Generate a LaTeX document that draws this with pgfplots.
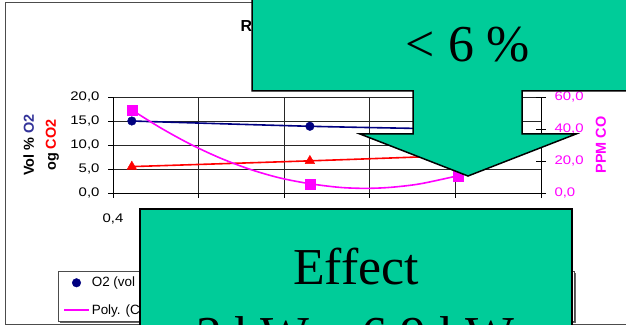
\documentclass[border=0pt]{standalone}
\usepackage{pgfplots}
\pgfplotsset{compat=1.18}
\usepackage{fontspec}
\setmainfont{Liberation Sans}
\newfontfamily\tickfont{Liberation Sans}[FakeStretch=1.2]
\newfontfamily\bigserif{Liberation Serif}

\definecolor{o2navy}{RGB}{0,0,128}
\definecolor{o2lab}{RGB}{51,51,153}
\definecolor{coMag}{RGB}{255,0,255}
\definecolor{callout}{RGB}{0,204,153}

\pgfplotsset{
  excelax/.style={
    scale only axis, width=428bp, height=96bp,
    at={(113bp,132bp)}, anchor=south west,
    xmin=0.4, xmax=1.4,
    tick label style={font=\tickfont\fontsize{12.5}{14}\selectfont},
    /pgf/number format/assume math mode=true,
    /pgf/number format/use comma,
    /pgf/number format/fixed,
    /pgf/number format/fixed zerofill,
    /pgf/number format/precision=1,
    axis line style={black, line width=0.8bp},
    tick style={black, line width=0.8bp},
  }
}

\begin{document}
\begin{tikzpicture}
\path[use as bounding box] (0,0) rectangle (626bp,325bp);

% chart frame, title, legend box
\draw[black!70, line width=1bp] (5.5bp,1bp) rectangle (700bp,322.5bp);
\node[anchor=base west, inner sep=0pt, font=\bfseries\fontsize{16}{18}\selectfont] at (240.5bp,293bp) {Røggasanalyse};
\fill[black!60] (60bp,2bp) rectangle (576bp,52bp);
\filldraw[fill=white, draw=black!70, line width=0.8bp] (58bp,4bp) rectangle (574bp,54bp);

% left axis: O2 and CO2 (vol %)
\begin{axis}[excelax,
  ymin=0, ymax=20, ytick={0,5,...,20},
  xtick={0.4,0.6,...,1.4},
  axis x line*=bottom, axis y line*=left,
  tick align=outside, major tick length=5bp,
  xticklabel style={yshift=-12bp},
  yticklabel style={xshift=-5bp},
  grid=major, grid style={black!85, line width=0.8bp},
  every axis y label/.style={at={(rel axis cs:-0.168,0.5)}, anchor=center, rotate=90,
    align=center, font=\bfseries\fontsize{14.5}{22}\selectfont},
  ylabel={Vol \% {\color{o2lab}O2}\\og {\color{red}CO2}},
  legend columns=3,
  legend cell align=left,
  legend style={draw=none, fill=none, at={(rel axis cs:-0.1168,-0.854)}, anchor=north west,
    inner sep=0pt, font=\fontsize{13.5}{15}\selectfont, row sep=12bp,
    /tikz/every even column/.append style={column sep=18bp}},
  legend image code/.code={\draw[mark repeat=2,mark phase=2] plot coordinates {(0bp,0bp) (12.5bp,0bp) (25bp,0bp)};},
]
\addplot[only marks, mark=*, mark size=4.3bp, color=o2navy] coordinates {(0.444,15.0) (0.860,13.9) (1.206,13.3)};
\addlegendentry{O2 (vol \%)}
\addplot[only marks, mark=triangle*, mark size=5.5bp, color=red] coordinates {(0.444,5.5) (0.860,6.7) (1.206,7.8)};
\addlegendentry{CO2 (vol \%)}
\addlegendimage{only marks, mark=square*, mark size=5bp, color=coMag}
\addlegendentry{CO (ppm)}
\addlegendimage{no markers, color=coMag, line width=1.6bp}
\addlegendentry{Poly. (CO (ppm))}
\addplot[no markers, smooth, color=o2navy, line width=1.6bp] coordinates {(0.444,15.0) (0.860,13.9) (1.206,13.3)};
\addlegendentry{Poly. (O2 (vol \%))}
\addplot[no markers, smooth, color=red, line width=1.6bp] coordinates {(0.444,5.5) (0.860,6.7) (1.206,7.8)};
\addlegendentry{Poly. (CO2 (vol \%))}
\end{axis}

% right axis: CO (ppm)
\begin{axis}[excelax,
  ymin=0, ymax=60, ytick={0,20,40,60},
  axis y line*=right, axis x line=none,
  tick align=center, major tick length=10bp,
  yticklabel style={color=coMag, xshift=5bp},
  every axis y label/.style={at={(rel axis cs:1.140,0.5)}, anchor=center, rotate=90,
    font=\bfseries\fontsize{14.5}{17}\selectfont, color=coMag},
  ylabel={PPM CO},
]
\addplot[no markers, smooth, color=coMag, line width=1.6bp] coordinates {
  (0.444,51.9) (0.510,40.9) (0.580,30.6) (0.650,21.9) (0.720,14.8) (0.790,9.4)
  (0.860,5.8) (0.930,3.5) (0.989,2.9) (1.047,3.5) (1.117,5.7) (1.206,10.8)};
\addplot[only marks, mark=square*, mark size=5bp, color=coMag] coordinates {(0.444,51.9) (0.860,5.8) (1.206,10.8)};
\end{axis}

% callouts on top
\filldraw[fill=callout, draw=black, line width=1.5bp]
  (252bp,340bp) -- (252bp,234bp) -- (413bp,234bp) -- (413bp,191bp) -- (360bp,191bp) -- (468bp,149bp)
  -- (576bp,191bp) -- (522bp,191bp) -- (522bp,234bp) -- (640bp,234bp) -- (640bp,340bp) -- cycle;
\node[anchor=base, inner sep=0pt, font=\bigserif\fontsize{52}{60}\selectfont] at (468bp,263bp) {< 6 \%};
\filldraw[fill=callout, draw=black, line width=1.5bp] (140bp,-20bp) rectangle (572bp,116bp);
\node[anchor=base, inner sep=0pt, font=\bigserif\fontsize{52}{60}\selectfont] at (356bp,40bp) {Effect};
\node[anchor=base, inner sep=0pt, font=\bigserif\fontsize{52}{60}\selectfont] at (355bp,-27bp) {2 kW – 6,9 kW};
\end{tikzpicture}
\end{document}
